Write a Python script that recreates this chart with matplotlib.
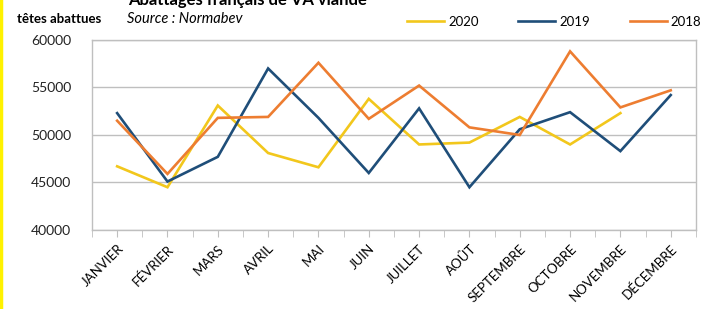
import matplotlib
matplotlib.use("Agg")
import matplotlib.pyplot as plt
from matplotlib.lines import Line2D
import numpy as np

months = ["JANVIER", "FÉVRIER", "MARS", "AVRIL", "MAI", "JUIN", "JUILLET",
          "AOÛT", "SEPTEMBRE", "OCTOBRE", "NOVEMBRE", "DÉCEMBRE"]

# têtes abattues par mois
y2020 = [46700, 44500, 53100, 48100, 46600, 53800, 49000, 49200, 51900, 49000, 52300, None]
y2019 = [52300, 45100, 47700, 57000, 51800, 46000, 52800, 44500, 50600, 52400, 48300, 54200]
y2018 = [51500, 45900, 51800, 51900, 57600, 51700, 55200, 50800, 50000, 58800, 52900, 54700]

years = ["2020", "2019", "2018"]
colors = ["#F2C71C", "#1F4E79", "#ED7D31"]

plt.rcParams["font.family"] = ["Lato", "DejaVu Sans"]

fig = plt.figure(figsize=(7.13, 3.09), dpi=100)
ax = fig.add_axes([0.129, 0.2557, 0.847, 0.615])

x = np.arange(len(months))
for vals, name, c in zip([y2020, y2019, y2018], years, colors):
    v = np.array([np.nan if a is None else a for a in vals], dtype=float)
    ax.plot(x, v, color=c, lw=1.9, label=name, solid_joinstyle="miter")

ax.set_xlim(-0.5, 11.5)
ax.set_ylim(40000, 60000)
ax.set_yticks(range(40000, 60001, 5000))
ax.yaxis.grid(True, color="#BFBFBF", lw=1)
ax.set_axisbelow(True)
ax.tick_params(axis="y", length=0, labelsize=10, pad=15, colors="#222222")

ax.set_xticks(x)
ax.set_xticklabels(months, rotation=45, ha="right", rotation_mode="anchor", fontsize=9.5)
ax.set_xticks(np.arange(-0.5, 12, 1), minor=True)
ax.tick_params(axis="x", which="both", length=5, color="#BFBFBF", direction="out", pad=4)
for s in ax.spines.values():
    s.set_color("#BFBFBF")
    s.set_linewidth(1)

# title, partly cut at the top like the original
fig.text(0.18, 1.0, "Abattages français de VA viande", fontsize=12, fontweight="bold",
         va="center", ha="left")
fig.text(0.024, 1 - 19 / 309, "têtes abattues", fontsize=9.5, fontweight="bold", va="center")
fig.text(0.178, 1 - 19 / 309, "Source : Normabev", fontsize=10.5, style="italic", va="center")

handles = [Line2D([], [], color=c, lw=1.9) for c in colors]
fig.legend(handles, years, loc="center right", bbox_to_anchor=(1.0, 1 - 22 / 309),
           ncol=3, frameon=False, fontsize=9.5, handlelength=2.8, handletextpad=0.3,
           columnspacing=3.0)

# yellow frame edge on the left
fig.add_artist(Line2D([0.002, 0.002], [0, 1], color="#FFF200", lw=2.5,
                      transform=fig.transFigure))

fig.savefig("out.png", dpi=100)
